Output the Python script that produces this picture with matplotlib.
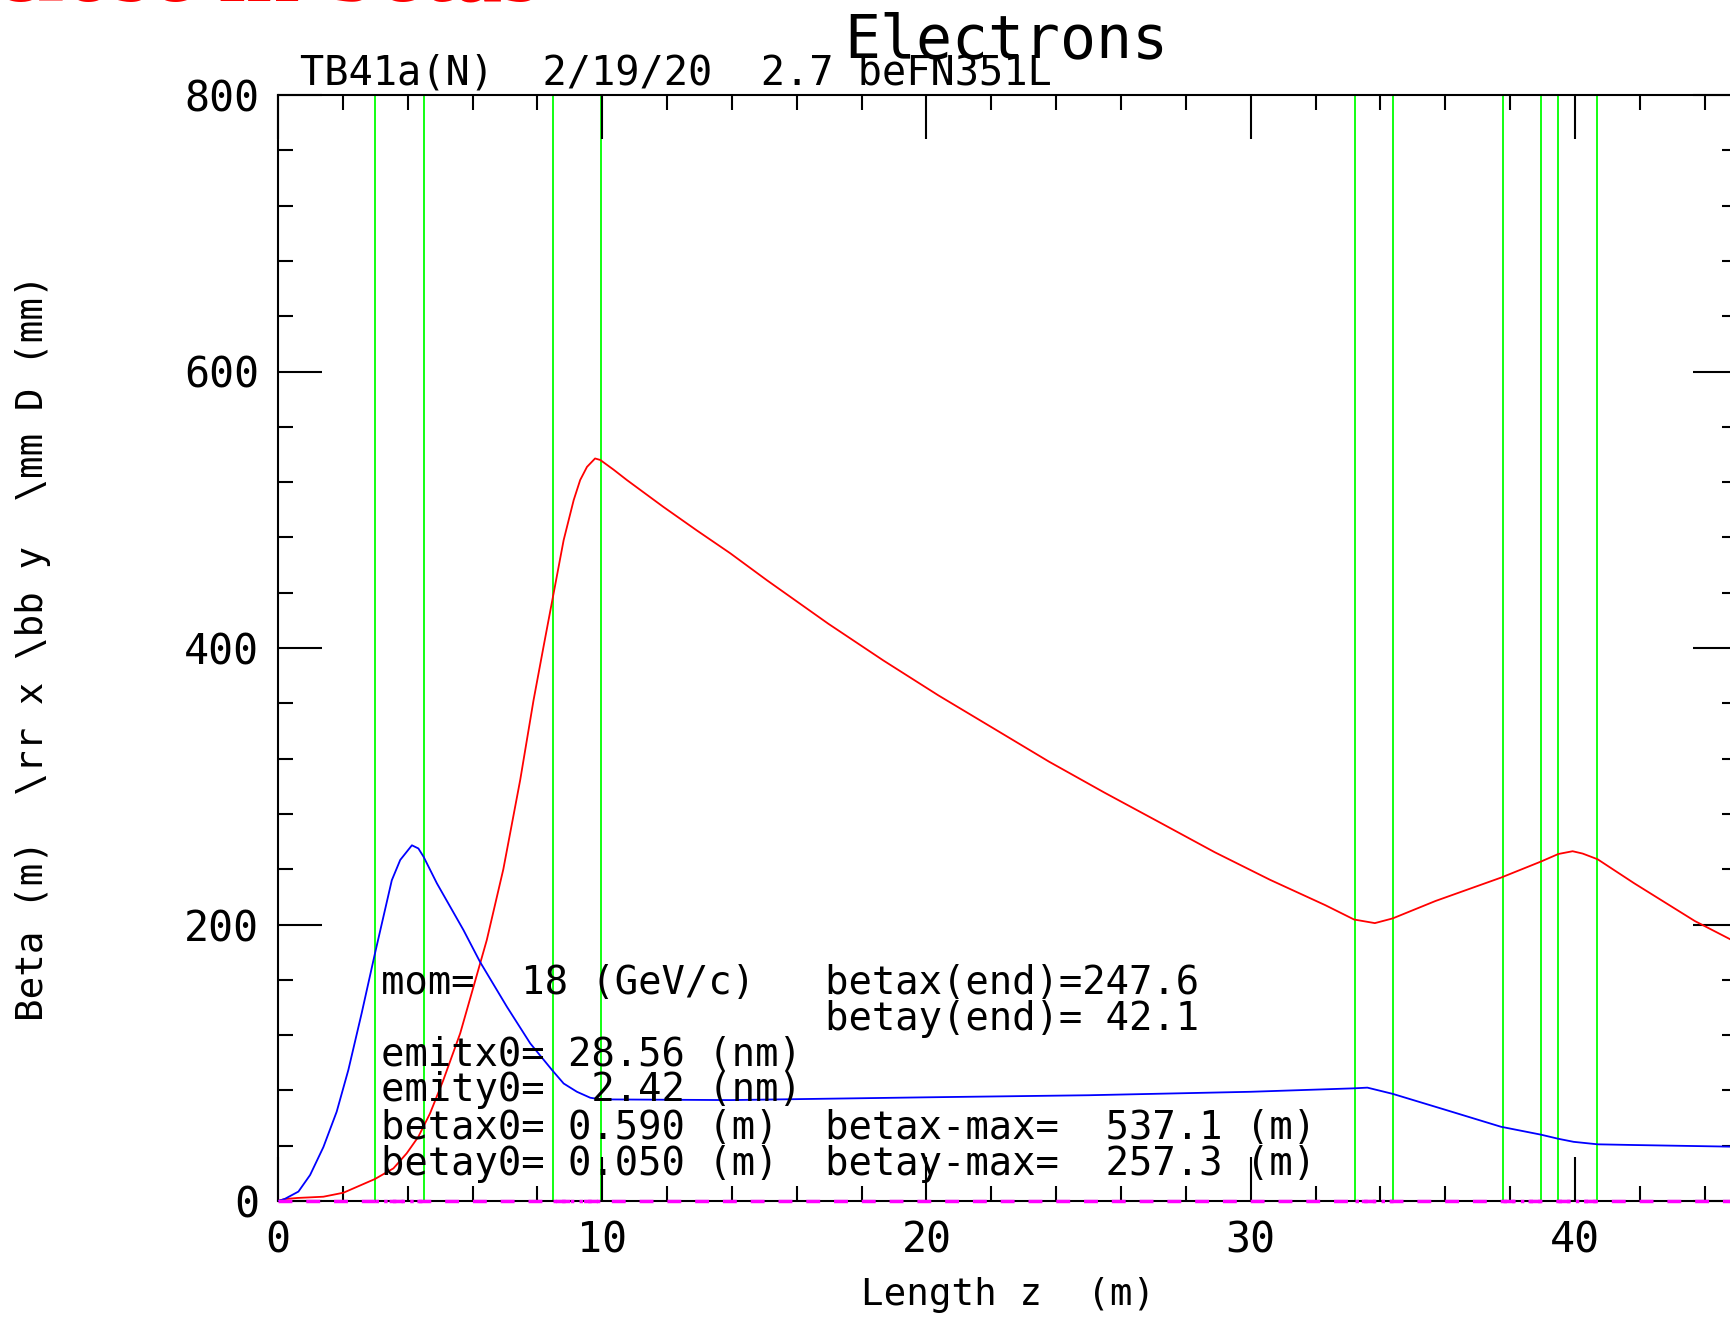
import numpy as np
import matplotlib
matplotlib.use("Agg")
import matplotlib.pyplot as plt
from matplotlib.ticker import MultipleLocator

# beta x (red)
sx = [0, 0.2, 0.6, 1.4, 2.02, 2.99, 3.56, 3.97, 4.33, 4.69, 5.10, 5.62, 6.03, 6.44,
      6.95, 7.47, 7.88, 8.19, 8.48, 8.81, 9.12, 9.32, 9.53, 9.78, 9.94,
      10.35, 10.76, 11.89, 12.92, 13.95, 15.08, 16.97, 18.67, 20.37, 22.08, 23.78,
      25.49, 27.19, 28.89, 30.60, 32.30, 33.19, 33.83, 34.38, 35.7, 37.72, 38.95,
      39.49, 39.93, 40.24, 40.70, 41.83, 43.7, 44.85]
betax = [0, 1.4, 2.2, 3.1, 6, 15.9, 23.6, 34.5, 46.5, 63.4, 87.5, 121.3, 155, 188.8,
         240, 304.5, 362, 401, 437, 478, 507, 521.5, 531, 537.1, 536,
         529, 521.5, 502, 485, 468.5, 449, 417.6, 391, 365.7, 341.7, 317.8,
         295.4, 273.9, 252.3, 232.3, 214, 203.6, 201, 204.4, 217, 233.9, 245.5,
         251, 253, 251.3, 247.2, 229.8, 202.5, 188.6]

# beta y (blue)
sy = [0, 0.2, 0.63, 0.99, 1.40, 1.81, 2.17, 2.58, 2.99, 3.51, 3.77, 4.13, 4.33, 4.49,
      4.90, 5.72, 6.23, 7.06, 7.78, 8.45, 8.81, 9.22, 9.63, 9.94, 13.95, 20, 25, 30,
      33.19, 33.6, 34.38, 36.0, 37.72, 38.95, 39.49, 39.96, 40.7, 41.8, 44.85]
betay = [0, 1.4, 6.8, 18.8, 39, 64.6, 94.8, 135.8, 179, 232, 246.7, 257.3, 255, 249,
         229.8, 196, 173, 140.5, 114, 94.8, 85, 79, 74.7, 73.5, 73, 75, 76.5, 79,
         81.5, 82, 77.5, 66, 53.7, 48, 45, 42.8, 41, 40.5, 39.3]

# element edges (green lines), in pairs
edges = [2.99, 4.51, 8.49, 9.95, 33.21, 34.40, 37.78, 38.97, 39.48, 40.69]

info = [
    "mom=  18 (GeV/c)   betax(end)=247.6",
    "                   betay(end)= 42.1",
    "emitx0= 28.56 (nm)",
    "emity0=  2.42 (nm)",
    "betax0= 0.590 (m)  betax-max=  537.1 (m)",
    "betay0= 0.050 (m)  betay-max=  257.3 (m)",
]
info_y = [150, 124, 98, 72, 45, 19]

mono = "DejaVu Sans Mono"
plt.rcParams['font.family'] = mono

W, H = 1731, 1319
fig = plt.figure(figsize=(W / 100, H / 100), dpi=100)
ax = fig.add_axes([278 / W, 1 - 1201 / H, (1737 - 278) / W, (1201 - 95) / H])

for e in edges:
    ax.axvline(e, color="#00ff00", lw=1.3, zorder=1)

ax.plot(sx, betax, color="red", lw=1.3, zorder=3)
ax.plot(sy, betay, color="blue", lw=1.3, zorder=3)

# dispersion (zero everywhere)
ax.plot([0, 45], [0, 0], color="magenta", lw=2.5, ls=(0, (4, 4)), zorder=4, clip_on=False)
for a, b in zip(edges[::2], edges[1::2]):
    ax.plot([a, b], [0, 0], color="magenta", lw=2.5, ls=(0, (1, 1.5)), zorder=4, clip_on=False)

for t, yy in zip(info, info_y):
    ax.text(3.18, yy, t, fontsize=28, va="baseline", ha="left", family=mono, zorder=5)

ax.set_xlim(0, 45)
ax.set_ylim(0, 800)
ax.xaxis.set_major_locator(MultipleLocator(10))
ax.xaxis.set_minor_locator(MultipleLocator(2))
ax.yaxis.set_major_locator(MultipleLocator(200))
ax.yaxis.set_minor_locator(MultipleLocator(40))
ax.tick_params(which="both", direction="in", top=True, right=True, width=1.5, labelsize=30)
ax.tick_params(which="major", length=31.5)
ax.tick_params(which="minor", length=10.8)
ax.tick_params(axis="y", pad=13.7)
ax.tick_params(axis="x", pad=13)
for sp in ax.spines.values():
    sp.set_linewidth(1.5)

fig.text(1006 / W, 1 - 57 / H, "Electrons", fontsize=43, ha="center", va="baseline")
fig.text(300 / W, 1 - 85 / H, "TB41a(N)  2/19/20  2.7 beFN351L", fontsize=29,
         ha="left", va="baseline")
fig.text(1008 / W, 0.0105, "Length z  (m)", fontsize=27, ha="center", va="baseline")
fig.text(33 / W, 1 - 648 / H, "Beta (m)  \\rr x \\bb y  \\mm D (mm)", fontsize=27,
         rotation=90, ha="center", va="center")
fig.text(-6 / W, 1 - 1 / H, "close in betas", fontsize=70, color="red",
         family="Liberation Serif", fontweight="bold", ha="left", va="baseline")

fig.savefig("out.png", dpi=100)
